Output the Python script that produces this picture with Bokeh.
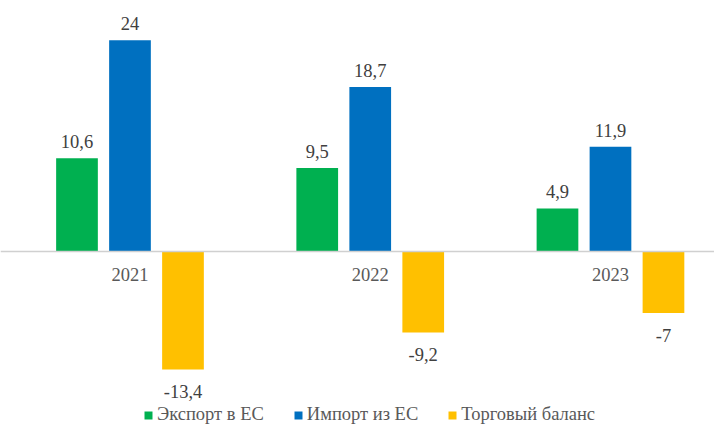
from bokeh.plotting import figure
from bokeh.models import ColumnDataSource, Range1d, Span, Legend, LegendItem
from bokeh.core.properties import value
from bokeh.embed import file_html
from bokeh.resources import INLINE

years = ["2021", "2022", "2023"]
export_eu = [10.6, 9.5, 4.9]
import_eu = [24.0, 18.7, 11.9]
balance = [-13.4, -9.2, -7.0]
series_names = ["Экспорт в ЕС", "Импорт из ЕС", "Торговый баланс"]
series_colors = ["#00B050", "#0070C0", "#FFC000"]
series_values = [export_eu, import_eu, balance]

FONT = "Liberation Serif"
FS = "18.5px"

p = figure(width=714, height=425, output_backend="svg", toolbar_location=None,
           x_range=Range1d(-0.539, 2.433), y_range=Range1d(-19.77, 28.52),
           min_border=0)
p.axis.visible = False
p.grid.visible = False
p.outline_line_color = None
p.background_fill_color = "white"
p.border_fill_color = "white"

zero = Span(location=0, dimension="width", line_color="#D0D0D0", line_width=1.5)
p.add_layout(zero)

pitch = 0.2206
bw = 0.1736
items = []
for k, (name, color, vals) in enumerate(zip(series_names, series_colors, series_values)):
    xs = [i + (k - 1) * pitch for i in range(len(years))]
    tops = [max(v, 0) for v in vals]
    bottoms = [min(v, 0) for v in vals]
    labels = [("%g" % v).replace(".", ",") for v in vals]
    src = ColumnDataSource(dict(x=xs, top=tops, bottom=bottoms))
    r = p.vbar(x="x", width=bw, top="top", bottom="bottom", source=src,
               fill_color=color, line_color=None)
    items.append(LegendItem(label=name, renderers=[r]))
    pos = ColumnDataSource(dict(x=[x for x, v in zip(xs, vals) if v >= 0],
                                y=[v for v in vals if v >= 0],
                                t=[l for l, v in zip(labels, vals) if v >= 0]))
    neg = ColumnDataSource(dict(x=[x for x, v in zip(xs, vals) if v < 0],
                                y=[v for v in vals if v < 0],
                                t=[l for l, v in zip(labels, vals) if v < 0]))
    p.text(x="x", y="y", text="t", source=pos, text_font=value(FONT),
           text_font_size=FS, text_color="#404040", text_align="center",
           text_baseline="middle", y_offset=-16.5)
    p.text(x="x", y="y", text="t", source=neg, text_font=value(FONT),
           text_font_size=FS, text_color="#404040", text_align="center",
           text_baseline="middle", y_offset=22.5)

cat_src = ColumnDataSource(dict(x=list(range(len(years))), y=[0] * len(years), t=years))
p.text(x="x", y="y", text="t", source=cat_src, text_font=value(FONT),
       text_font_size=FS, text_color="#595959", text_align="center",
       text_baseline="middle", y_offset=22.7)

legend = Legend(items=items, orientation="horizontal", location=(143, 0),
                glyph_width=10, glyph_height=10, label_standoff=4, spacing=29,
                padding=0, margin=0, label_text_font=FONT, label_text_font_size=FS,
                label_text_color="#595959", label_height=20,
                background_fill_alpha=0, border_line_color=None)
p.add_layout(legend)

open("out.html", "w").write(file_html(p, INLINE))
